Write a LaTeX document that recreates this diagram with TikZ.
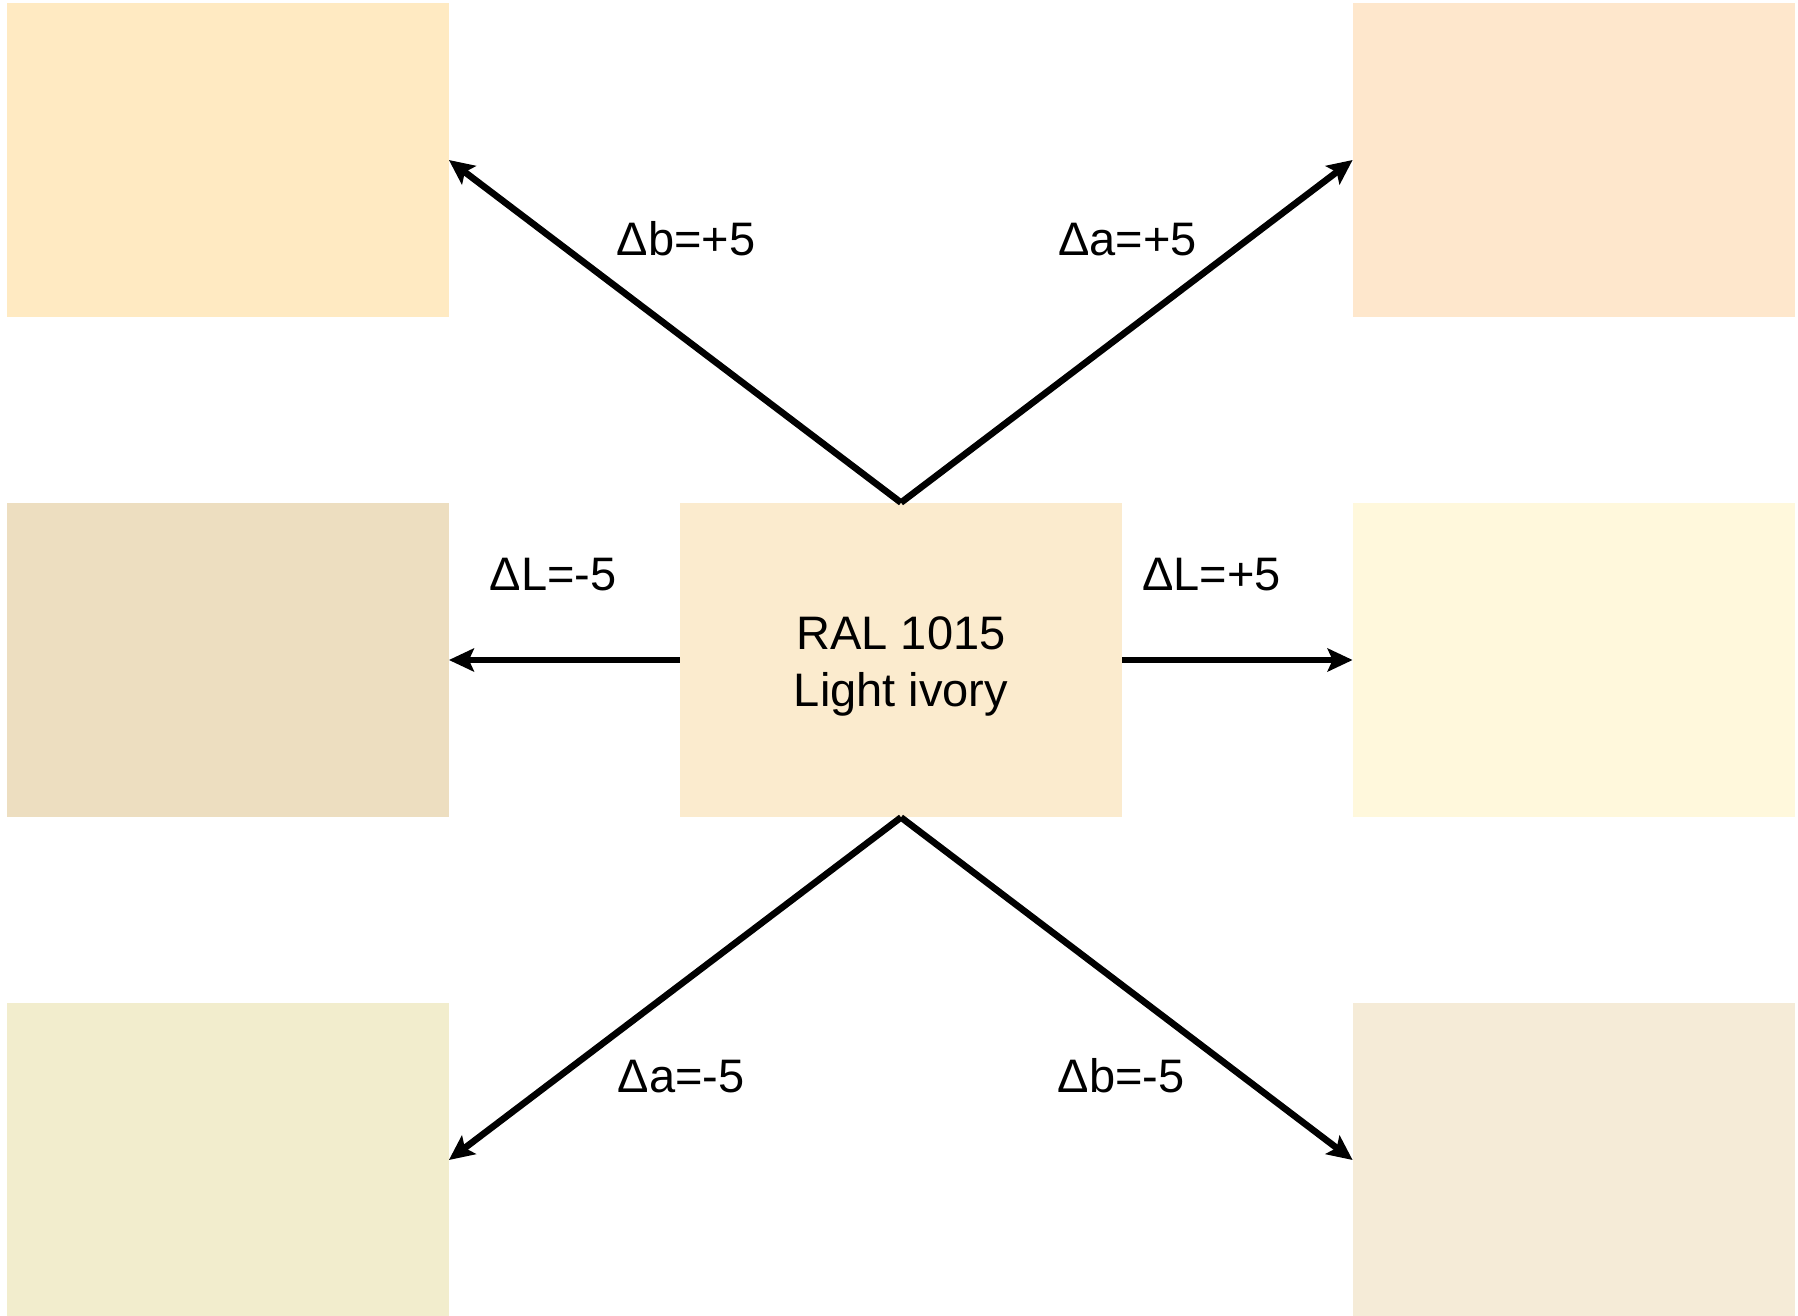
\documentclass[tikz,border=0pt]{standalone}
\usepackage{fontspec}
\setmainfont{Liberation Sans}
\usetikzlibrary{arrows.meta}
\definecolor{cTL}{RGB}{255,234,194}
\definecolor{cTR}{RGB}{254,231,204}
\definecolor{cML}{RGB}{237,222,192}
\definecolor{cC}{RGB}{251,235,206}
\definecolor{cMR}{RGB}{255,248,220}
\definecolor{cBL}{RGB}{242,237,205}
\definecolor{cBR}{RGB}{245,235,215}
\tikzset{
  swatch/.style={rectangle, draw=none, inner sep=0pt, minimum width=221pt, minimum height=157pt},
  conn/.style={line width=3.3pt, -{Stealth[length=12.5pt,width=11.5pt,inset=2.5pt]}, shorten >=0pt},
  lbl/.style={inner sep=0pt, anchor=base, font=\fontsize{23.5pt}{28.5pt}\selectfont}
}
\begin{document}
\begin{tikzpicture}[x=0.5pt,y=-0.5pt]
\useasboundingbox[fill=white] (0,0) rectangle (1798,1316);
\begin{scope}
\clip (0,0) rectangle (1798,1316);
\node[swatch, fill=cTL] (tl) at (227.5,160) {};
\node[swatch, fill=cTR] (tr) at (1574,160) {};
\node[swatch, fill=cML] (ml) at (227.5,660) {};
\node[swatch, fill=cC] (c) at (901,660) {};
\node[swatch, fill=cMR] (mr) at (1574,660) {};
\node[swatch, fill=cBL] (bl) at (227.5,1160) {};
\node[swatch, fill=cBR] (br) at (1574,1160) {};
\end{scope}
\node[inner sep=0pt, align=center, font=\fontsize{23.5pt}{28.5pt}\selectfont] (ctext) at (901,666) {RAL 1015\\Light ivory};
\draw[conn] (c.north) -- (tl.east);
\draw[conn] (c.north) -- (tr.west);
\draw[conn] (c.west) -- (ml.east);
\draw[conn] (c.east) -- (mr.west);
\draw[conn] (c.south) -- (bl.east);
\draw[conn] (c.south) -- (br.west);
\node[lbl] (l1) at (686,255.7) {Δb=+5};
\node[lbl] (l2) at (1127.5,255.7) {Δa=+5};
\node[lbl] (l3) at (553,590.5) {ΔL=-5};
\node[lbl] (l4) at (1211.5,590.5) {ΔL=+5};
\node[lbl] (l5) at (681,1092.5) {Δa=-5};
\node[lbl] (l6) at (1121,1092.5) {Δb=-5};
\end{tikzpicture}
\end{document}
